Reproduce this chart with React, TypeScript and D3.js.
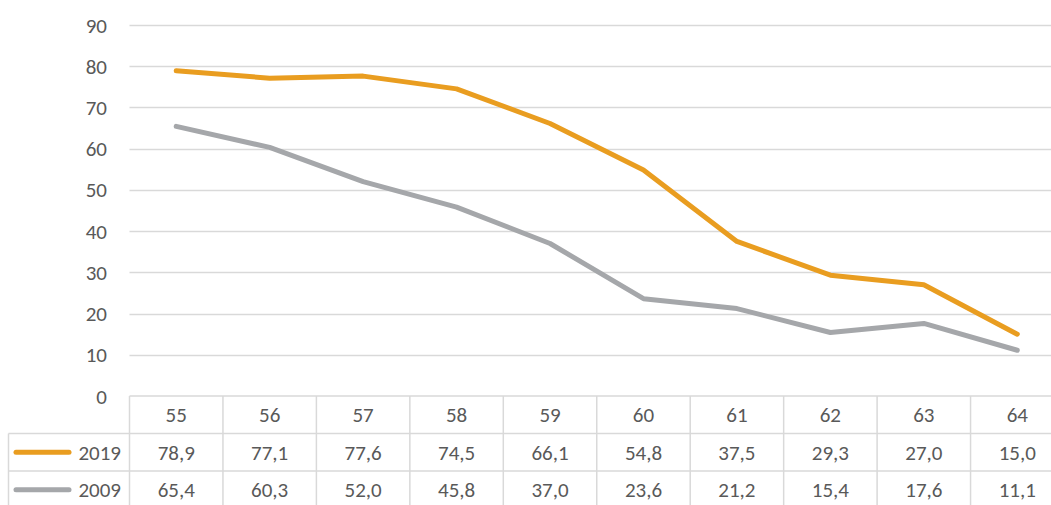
import React from "react";
import * as d3 from "d3";

const categories = ["55", "56", "57", "58", "59", "60", "61", "62", "63", "64"];
const values2019 = [78.9, 77.1, 77.6, 74.5, 66.1, 54.8, 37.5, 29.3, 27.0, 15.0];
const values2009 = [65.4, 60.3, 52.0, 45.8, 37.0, 23.6, 21.2, 15.4, 17.6, 11.1];
const seriesNames = ["2019", "2009"];
const yTicks = [0, 10, 20, 30, 40, 50, 60, 70, 80, 90];

const W = 1051;
const H = 505;
const plotLeft = 129.5;
const plotRight = 1064;
const plotTop = 25;
const plotBottom = 396;
const rowH = 37.5;
const tableLeft = 8.5;
const font = "Carlito, Calibri, Lato, 'Open Sans', sans-serif";
const fs = 21;
const textColor = "#595959";
const gridColor = "#d9d9d9";
const colors = ["#E99D20", "#A5A7AA"];

export default function App() {
  const x = d3.scaleBand<string>().domain(categories).range([plotLeft, plotRight]);
  const y = d3.scaleLinear().domain([0, 90]).range([plotBottom, plotTop]);
  const line = d3
    .line<number>()
    .x((_, i) => (x(categories[i]) as number) + x.bandwidth() / 2)
    .y((d) => y(d));
  const series = [values2019, values2009];
  const rowTops = [plotBottom, plotBottom + rowH, plotBottom + 2 * rowH, plotBottom + 3 * rowH];

  return (
    <svg
      width={W}
      height={H}
      style={{ position: "absolute", left: 0, top: 0, background: "#fff" }}
      fontFamily={font}
    >
      {yTicks.filter((t) => t > 0).map((t) => (
        <line key={t} x1={plotLeft} x2={plotRight} y1={Math.round(y(t)) + 0.5} y2={Math.round(y(t)) + 0.5} stroke={gridColor} strokeWidth={1.3} />
      ))}
      {yTicks.map((t) => (
        <text key={t} x={107} y={y(t)} dy="0.36em" textAnchor="end" fontSize={fs} fill={textColor}>
          {t}
        </text>
      ))}
      {rowTops.map((ry, i) => (
        <line key={"h" + i} x1={i === 0 ? plotLeft : tableLeft} x2={plotRight} y1={ry} y2={ry} stroke={gridColor} strokeWidth={1.5} />
      ))}
      <line x1={tableLeft} x2={tableLeft} y1={rowTops[1]} y2={H + 5} stroke={gridColor} strokeWidth={1.5} />
      {categories.map((c) => (
        <line key={"v" + c} x1={x(c)} x2={x(c)} y1={plotBottom} y2={H + 5} stroke={gridColor} strokeWidth={1.5} />
      ))}
      {categories.map((c) => (
        <text key={"c" + c} x={(x(c) as number) + x.bandwidth() / 2} y={plotBottom + rowH / 2} dy="0.36em" textAnchor="middle" fontSize={fs} fill={textColor}>
          {c}
        </text>
      ))}
      {series.map((vals, si) => (
        <g key={"r" + si}>
          <line x1={16} x2={69} y1={rowTops[si + 1] + rowH / 2} y2={rowTops[si + 1] + rowH / 2} stroke={colors[si]} strokeWidth={5} strokeLinecap="round" />
          <text x={121} y={rowTops[si + 1] + rowH / 2} dy="0.36em" textAnchor="end" fontSize={fs} fill={textColor}>
            {seriesNames[si]}
          </text>
          {vals.map((v, i) => (
            <text key={i} x={(x(categories[i]) as number) + x.bandwidth() / 2} y={rowTops[si + 1] + rowH / 2} dy="0.36em" textAnchor="middle" fontSize={fs} fill={textColor}>
              {v.toFixed(1).replace(".", ",")}
            </text>
          ))}
        </g>
      ))}
      {series.map((vals, si) => (
        <path key={"l" + si} d={line(vals) as string} fill="none" stroke={colors[si]} strokeWidth={5} strokeLinejoin="round" strokeLinecap="round" />
      ))}
    </svg>
  );
}
